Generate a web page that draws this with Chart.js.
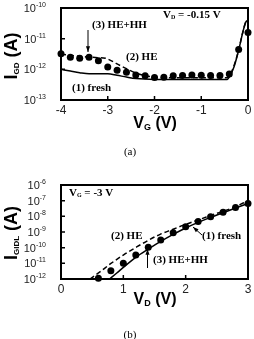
<!DOCTYPE html>
<html>
<head>
<meta charset="utf-8">
<script src="https://cdn.jsdelivr.net/npm/chart.js@4.4.0/dist/chart.umd.min.js"></script>
<style>
  html, body { margin: 0; padding: 0; background: #fff; }
  body { width: 254px; height: 339px; position: relative; overflow: hidden; }
  canvas { position: absolute; left: 0; }
  #chartA { top: 0; }
  #chartB { top: 170px; }
</style>
</head>
<body>
<canvas id="chartA" width="254" height="170"></canvas>
<canvas id="chartB" width="254" height="169"></canvas>
<script>
// (a) I_GD vs V_G, V_D = -0.15 V
const vgDots = [-4, -3.8, -3.6, -3.4, -3.2, -3.0, -2.8, -2.6, -2.4, -2.2, -2.0, -1.8, -1.6, -1.4, -1.2, -1.0, -0.8, -0.6, -0.4, -0.2, 0];
const heHhA = [3.2e-12, 2.5e-12, 2.3e-12, 2.5e-12, 1.9e-12, 1.2e-12, 9.3e-13, 8e-13, 6.5e-13, 6.2e-13, 5.4e-13, 5.5e-13, 6.2e-13, 6.3e-13, 6.5e-13, 6.4e-13, 6.3e-13, 6.3e-13, 7e-13, 4.4e-12, 1.6e-11];
const vgFresh = [-4, -3.8, -3.6, -3.4, -3.0, -2.8, -2.6, -2.4, -2.0, -1.0, -0.45, -0.4, -0.3, -0.2, -0.11, -0.05, 0];
const freshA = [1.0e-12, 8.8e-13, 7.8e-13, 7.2e-13, 7.2e-13, 6.4e-13, 5.6e-13, 5.0e-13, 4.7e-13, 4.7e-13, 4.7e-13, 5.6e-13, 1.2e-12, 4.2e-12, 1.65e-11, 3.4e-11, 4e-11];
const vgHe = [-4, -3.6, -3.4, -3.2, -3.05, -2.8, -2.6, -2.4, -2.2, -2.0, -1.8, -1.0, -0.45, -0.4, -0.3, -0.2, -0.11, -0.05, 0];
const heA = [3.1e-12, 2.65e-12, 2.5e-12, 2.4e-12, 2.3e-12, 1.5e-12, 1.05e-12, 7.6e-13, 6.2e-13, 5.6e-13, 5.3e-13, 5.3e-13, 5.3e-13, 6e-13, 1.3e-12, 4.3e-12, 1.65e-11, 3.4e-11, 4e-11];
const xTicksA = [-4, -3, -2, -1, 0];
const yExpA = [-13, -12, -11, -10];

// (b) I_GIDL vs V_D, V_G = -3 V
const vdDots = [0.6, 0.8, 1.0, 1.2, 1.4, 1.6, 1.8, 2.0, 2.2, 2.4, 2.6, 2.8, 3.0];
const heHhB = [1.1e-12, 3.4e-12, 1e-11, 3.4e-11, 1.05e-10, 3.1e-10, 9e-10, 2.2e-9, 4.6e-9, 9.5e-9, 1.8e-8, 3.7e-8, 6.7e-8];
const vdFresh = [0.78, 0.9, 1.0, 1.2, 1.4, 1.6, 1.8, 2.0, 2.2, 2.4, 2.6, 2.8, 3.0];
const freshB = [1e-12, 2.5e-12, 5.5e-12, 2.4e-11, 8e-11, 2.5e-10, 7e-10, 1.8e-9, 4.1e-9, 8.6e-9, 1.7e-8, 3.4e-8, 6.7e-8];
const vdHe = [0.465, 0.63, 0.79, 1.0, 1.22, 1.41, 1.59, 1.81, 2.0, 2.23, 2.5, 2.77, 3.0];
const heB = [1e-12, 2.95e-12, 9.1e-12, 3.4e-11, 1.15e-10, 3.1e-10, 7.1e-10, 1.55e-9, 3.1e-9, 6.5e-9, 1.55e-8, 3.7e-8, 1e-7];
const xTicksB = [0, 1, 2, 3];
const yExpB = [-12, -11, -10, -9, -8, -7, -6];

const SANS = 'Liberation Sans, Arial, sans-serif';
const SERIF = 'Liberation Serif, Times New Roman, serif';

function pts(xs, ys) {
    return xs.map((x, i) => ({ x: x, y: ys[i] }));
}

// draw a row of text pieces with different fonts / offsets
function drawRich(ctx, parts, x, y, align) {
    let w = 0;
    parts.forEach(p => { ctx.font = p[1]; w += ctx.measureText(p[0]).width; });
    let cx = align === 'right' ? x - w : (align === 'center' ? x - w / 2 : x);
    ctx.textAlign = 'left';
    ctx.textBaseline = 'middle';
    parts.forEach(p => {
        ctx.font = p[1];
        ctx.fillText(p[0], cx, y + (p[2] || 0));
        cx += ctx.measureText(p[0]).width;
    });
}

function arrow(ctx, x1, y1, x2, y2) {
    const a = Math.atan2(y2 - y1, x2 - x1);
    ctx.beginPath();
    ctx.moveTo(x1, y1);
    ctx.lineTo(x2, y2);
    ctx.lineWidth = 1;
    ctx.stroke();
    ctx.beginPath();
    ctx.moveTo(x2, y2);
    ctx.lineTo(x2 - 6 * Math.cos(a - 0.35), y2 - 6 * Math.sin(a - 0.35));
    ctx.lineTo(x2 - 6 * Math.cos(a + 0.35), y2 - 6 * Math.sin(a + 0.35));
    ctx.closePath();
    ctx.fill();
}

function frameAndTicks(chart, xTicks, yExp) {
    const ctx = chart.ctx;
    const a = chart.chartArea;
    const xs = chart.scales.x, ys = chart.scales.y;
    ctx.save();
    ctx.strokeStyle = '#000';
    ctx.fillStyle = '#000';
    ctx.lineWidth = 2;
    ctx.strokeRect(a.left, a.top, a.right - a.left, a.bottom - a.top);
    ctx.lineWidth = 1.5;
    ctx.beginPath();
    yExp.forEach(e => {
        const py = ys.getPixelForValue(Math.pow(10, e));
        ctx.moveTo(a.left, py); ctx.lineTo(a.left + 4, py);
    });
    xTicks.forEach(v => {
        const px = xs.getPixelForValue(v);
        ctx.moveTo(px, a.bottom); ctx.lineTo(px, a.bottom - 4);
    });
    ctx.stroke();
    ctx.fillStyle = '#222';
    yExp.forEach(e => {
        const py = ys.getPixelForValue(Math.pow(10, e));
        drawRich(ctx, [['10', '11px ' + SANS, 1], [String(e), '7px ' + SANS, -3]], a.left - 15, py, 'right');
    });
    ctx.font = '12px ' + SANS;
    ctx.textAlign = 'center';
    ctx.textBaseline = 'middle';
    xTicks.forEach(v => {
        ctx.fillText(String(v), xs.getPixelForValue(v), a.bottom + 11);
    });
    ctx.restore();
}

const annotA = {
    id: 'annotA',
    afterDraw(chart) {
        const ctx = chart.ctx;
        frameAndTicks(chart, xTicksA, yExpA);
        ctx.save();
        ctx.fillStyle = '#000';
        ctx.strokeStyle = '#000';
        ctx.save();
        ctx.translate(12, 56);
        ctx.rotate(-Math.PI / 2);
        drawRich(ctx, [['I', 'bold 18px ' + SANS, 0], ['GD', 'bold 8px ' + SANS, 5], [' (A)', 'bold 18px ' + SANS, 0]], 0, 0, 'center');
        ctx.restore();
        drawRich(ctx, [['V', 'bold 16px ' + SANS, 0], ['G', 'bold 9px ' + SANS, 4], [' (V)', 'bold 16px ' + SANS, 0]], 155, 124, 'center');
        const b = 'bold 11px ' + SERIF;
        drawRich(ctx, [['V', b, 0], ['D', 'bold 6px ' + SERIF, 2], [' = -0.15 V', b, 0]], 163, 15, 'left');
        drawRich(ctx, [['(3) HE+HH', b, 0]], 92, 25, 'left');
        drawRich(ctx, [['(2) HE', b, 0]], 126, 57, 'left');
        drawRich(ctx, [['(1) fresh', b, 0]], 72, 88, 'left');
        arrow(ctx, 88, 30, 88, 52);
        drawRich(ctx, [['(a)', '11px ' + SERIF, 0]], 130, 152, 'center');
        ctx.restore();
    }
};

const annotB = {
    id: 'annotB',
    afterDraw(chart) {
        const ctx = chart.ctx;
        frameAndTicks(chart, xTicksB, yExpB);
        ctx.save();
        ctx.fillStyle = '#000';
        ctx.strokeStyle = '#000';
        ctx.save();
        ctx.translate(12, 63);
        ctx.rotate(-Math.PI / 2);
        drawRich(ctx, [['I', 'bold 18px ' + SANS, 0], ['GIDL', 'bold 8px ' + SANS, 5], [' (A)', 'bold 18px ' + SANS, 0]], 0, 0, 'center');
        ctx.restore();
        drawRich(ctx, [['V', 'bold 16px ' + SANS, 0], ['D', 'bold 9px ' + SANS, 4], [' (V)', 'bold 16px ' + SANS, 0]], 155, 130, 'center');
        const b = 'bold 11px ' + SERIF;
        drawRich(ctx, [['V', b, 0], ['G', 'bold 6px ' + SERIF, 2], [' = -3 V', b, 0]], 69, 23, 'left');
        drawRich(ctx, [['(2) HE', b, 0]], 111, 66, 'left');
        drawRich(ctx, [['(1) fresh', b, 0]], 202, 66, 'left');
        drawRich(ctx, [['(3) HE+HH', b, 0]], 153, 90, 'left');
        arrow(ctx, 147.5, 98, 147.5, 79);
        arrow(ctx, 202, 65, 193, 57);
        drawRich(ctx, [['(b)', '11px ' + SERIF, 0]], 130, 165, 'center');
        ctx.restore();
    }
};

function makeChart(id, padding, xMin, xMax, yMin, yMax, dots, fresh, he, plugin) {
    return new Chart(document.getElementById(id), {
        type: 'line',
        data: {
            datasets: [
                { label: '(3) HE+HH', data: dots, showLine: false, pointRadius: 3.5, pointBackgroundColor: '#000', pointBorderColor: '#000', pointBorderWidth: 0, clip: false },
                { label: '(1) fresh', data: fresh, borderColor: '#000', borderWidth: 1.5, pointRadius: 0, tension: 0.3, cubicInterpolationMode: 'monotone' },
                { label: '(2) HE', data: he, borderColor: '#000', borderWidth: 1.5, borderDash: [5, 3], pointRadius: 0, tension: 0.3, cubicInterpolationMode: 'monotone' }
            ]
        },
        options: {
            responsive: false,
            animation: false,
            layout: { padding: padding },
            plugins: { legend: { display: false }, tooltip: { enabled: false } },
            scales: {
                x: { type: 'linear', min: xMin, max: xMax, display: false },
                y: { type: 'logarithmic', min: yMin, max: yMax, display: false }
            }
        },
        plugins: [plugin]
    });
}

makeChart('chartA', { left: 61, right: 6, top: 8, bottom: 70 }, -4, 0, 1e-13, 1e-10,
    pts(vgDots, heHhA), pts(vgFresh, freshA), pts(vgHe, heA), annotA);
makeChart('chartB', { left: 61, right: 6, top: 15, bottom: 60 }, 0, 3, 1e-12, 1e-6,
    pts(vdDots, heHhB), pts(vdFresh, freshB), pts(vdHe, heB), annotB);
</script>
</body>
</html>
